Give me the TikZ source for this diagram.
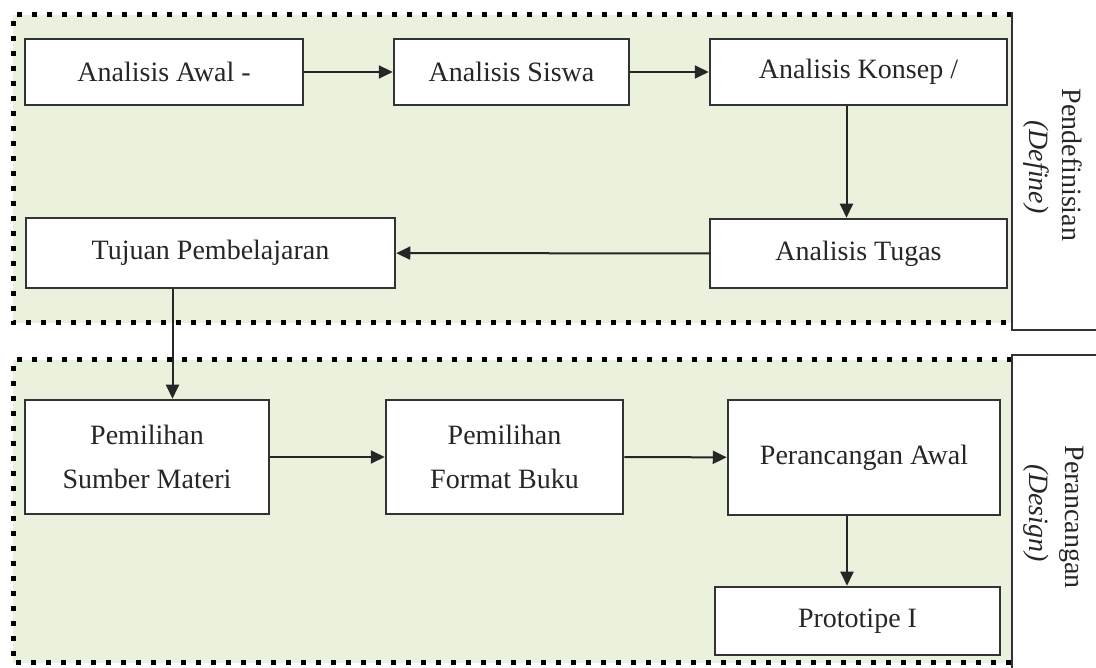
\documentclass[tikz,border=0pt]{standalone}
\usepackage{fontspec}
\setmainfont{Liberation Serif}
\usetikzlibrary{arrows.meta,positioning}
\definecolor{panelgreen}{RGB}{234,241,221}
\begin{document}
\begin{tikzpicture}[x=1pt,y=1pt,
stepbox/.style={draw=black!80, line width=2.5pt, fill=white, align=center, inner sep=0pt,
  text=black!85, font=\fontsize{28}{44}\selectfont},
panelline/.style={draw=black, line width=5pt, dash pattern=on 5pt off 10pt},
arr/.style={-{Triangle[length=14pt,width=13pt]}, line width=2pt, draw=black!85},
phase/.style={rotate=-90, text=black!85, font=\fontsize{28}{30}\selectfont}]
    \useasboundingbox (0,0) rectangle (1096,668);
    % panels
    \fill[panelgreen] (13,345) rectangle (1012,653);
    \fill[panelgreen] (13,5) rectangle (1012,308);
    \draw[panelline] (1012,653) -- (13,653) -- (13,345) -- (1012,345);
    \draw[panelline] (1012,308) -- (13,308) -- (13,5) -- (1012,5);
    % phase boxes
    \draw[line width=2pt, black!80] (1012,656) -- (1012,338) -- (1096,338);
    \draw[line width=2pt, black!80] (1096,313) -- (1012,313) -- (1012,0);
    \node [phase] (pendef) at (1072,503) {Pendefinisian};
    \node [phase] (define) at (1036,501) {\textit{(Define)}};
    \node [phase] (peranc) at (1072,151) {Perancangan};
    \node [phase] (design) at (1036,155) {\textit{(Design)}};
    % steps
    \node [stepbox, minimum width=278pt, minimum height=66pt] (awal) at (164,596) {Analisis Awal -};
    \node [stepbox, minimum width=235pt, minimum height=66pt] (siswa) at (511.5,596) {Analisis Siswa};
    \node [stepbox, minimum width=297pt, minimum height=66pt] (konsep) at (858.5,596) {Analisis Konsep /};
    \node [stepbox, minimum width=297pt, minimum height=69pt] (tugas) at (858.5,414.5) {Analisis Tugas};
    \node [stepbox, minimum width=369pt, minimum height=70pt] (tujuan) at (210.5,415) {Tujuan Pembelajaran};
    \node [stepbox, minimum width=244pt, minimum height=114pt] (sumber) at (147,211) {Pemilihan\\Sumber Materi};
    \node [stepbox, minimum width=237pt, minimum height=114pt] (format) at (504.5,211) {Pemilihan\\Format Buku};
    \node [stepbox, minimum width=272pt, minimum height=115pt] (rancang) at (864,210.5) {Perancangan Awal};
    \node [stepbox, minimum width=285pt, minimum height=68pt] (proto) at (857.5,47) {Prototipe I};
    % arrows
    \draw[arr] (awal) -- (siswa);
    \draw[arr] (siswa) -- (konsep);
    \draw[arr] ([xshift=-12pt]konsep.south) -- ([xshift=-12pt]tugas.north);
    \draw[arr] (tugas) -- (tujuan);
    \draw[arr] ([xshift=-38pt]tujuan.south) -- ([xshift=-38pt]tujuan.south |- sumber.north);
    \draw[arr] (sumber) -- (format);
    \draw[arr] (format) -- (rancang);
    \draw[arr] ([xshift=-17pt]rancang.south) -- ([xshift=-17pt]rancang.south |- proto.north);
\end{tikzpicture}
\end{document}
